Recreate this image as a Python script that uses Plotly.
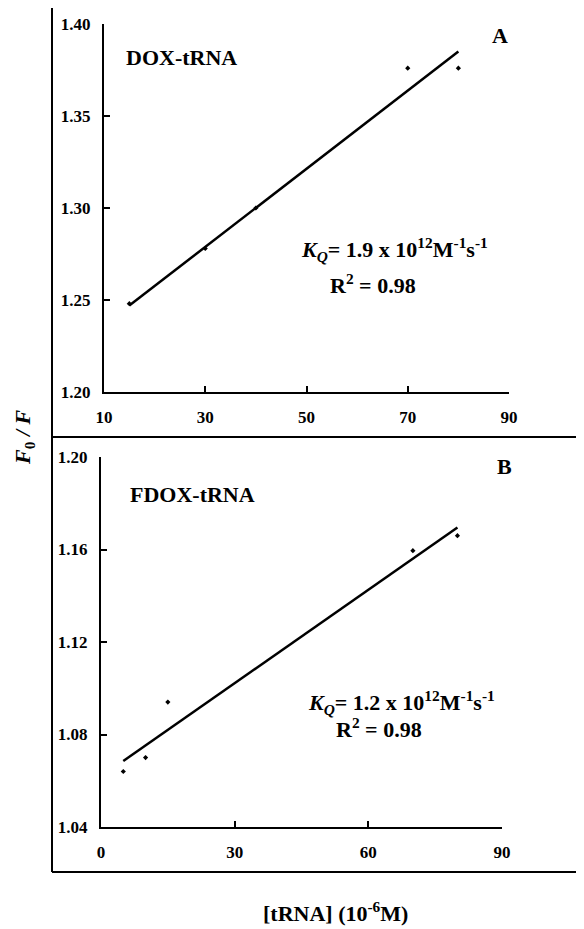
import plotly.graph_objects as go

# Panel A: DOX-tRNA
conc_A = [15, 30, 40, 70, 80]
f0f_A = [1.248, 1.278, 1.300, 1.376, 1.376]
fit_x_A = [15, 80]
fit_y_A = [1.247, 1.385]

# Panel B: FDOX-tRNA
conc_B = [5, 10, 15, 70, 80]
f0f_B = [1.064, 1.070, 1.094, 1.1595, 1.166]
fit_x_B = [5, 80]
fit_y_B = [1.0685, 1.1695]

W, H = 584, 929
OFF = 8  # page body margin offset
FONT = "Liberation Serif, Times New Roman, serif"


def px(x):
    return (x - OFF) / W


def py(y):
    return 1 - (y - OFF) / H


fig = go.Figure()

marker = dict(symbol="diamond", size=4, color="black")
line = dict(color="black", width=2.5)

fig.add_trace(go.Scatter(x=conc_A, y=f0f_A, mode="markers", marker=marker,
                         xaxis="x", yaxis="y", showlegend=False))
fig.add_trace(go.Scatter(x=fit_x_A, y=fit_y_A, mode="lines", line=line,
                         xaxis="x", yaxis="y", showlegend=False))
fig.add_trace(go.Scatter(x=conc_B, y=f0f_B, mode="markers", marker=marker,
                         xaxis="x2", yaxis="y2", showlegend=False))
fig.add_trace(go.Scatter(x=fit_x_B, y=fit_y_B, mode="lines", line=line,
                         xaxis="x2", yaxis="y2", showlegend=False))

tickfont = dict(family=FONT, size=17, color="black", weight="bold")
common = dict(showgrid=False, zeroline=False, showline=True, linecolor="black",
              linewidth=2, ticks="inside", ticklen=6, tickwidth=2,
              tickcolor="black", tickfont=tickfont, mirror=False, automargin=False)

fig.update_layout(
    width=W, height=H,
    margin=dict(l=0, r=0, t=0, b=0, pad=0, autoexpand=False),
    paper_bgcolor="white", plot_bgcolor="white",
    xaxis=dict(domain=[px(104), px(509)], range=[10, 90], tick0=10, dtick=20,
               anchor="y", ticklabelstandoff=9, **common),
    yaxis=dict(domain=[py(392), py(24)], range=[1.20, 1.40], tick0=1.20, dtick=0.05,
               tickformat=".2f", anchor="x", ticklabelstandoff=8, **common),
    xaxis2=dict(domain=[px(101), px(502)], range=[0, 90], tick0=0, dtick=30,
                anchor="y2", ticklabelstandoff=9, **common),
    yaxis2=dict(domain=[py(827), py(457)], range=[1.04, 1.20], tick0=1.04, dtick=0.04,
                tickformat=".2f", anchor="x2", ticklabelstandoff=8, **common),
)

# Frame lines
frame = dict(color="black", width=2)
shapes = [
    dict(type="line", xref="paper", yref="paper", x0=px(52), x1=px(52), y0=py(7), y1=py(872), line=frame),
    dict(type="line", xref="paper", yref="paper", x0=px(52), x1=1.0, y0=py(7), y1=py(7), line=frame),
    dict(type="line", xref="paper", yref="paper", x0=px(52), x1=1.0, y0=py(437), y1=py(437), line=frame),
    dict(type="line", xref="paper", yref="paper", x0=px(52), x1=1.0, y0=py(872), y1=py(872), line=frame),
]
fig.update_layout(shapes=shapes)


def ann(text, x, y, size, xanchor="left", yanchor="middle", angle=0):
    fig.add_annotation(text=text, x=px(x), y=py(y), xref="paper", yref="paper",
                       xanchor=xanchor, yanchor=yanchor, showarrow=False, textangle=angle,
                       font=dict(family=FONT, size=size, color="black", weight="bold"))


ann("DOX-tRNA", 124, 58, 22)
ann("A", 510, 35, 22, xanchor="right")
ann("<i>K<sub>Q</sub></i>= 1.9 x 10<sup>12</sup>M<sup>-1</sup>s<sup>-1</sup>", 299, 249, 22)
ann("R<sup>2</sup> = 0.98", 373, 284, 22, xanchor="center")

ann("FDOX-tRNA", 128, 494, 22)
ann("B", 514, 466, 22, xanchor="right")
ann("<i>K<sub>Q</sub></i>= 1.2 x 10<sup>12</sup>M<sup>-1</sup>s<sup>-1</sup>", 306, 702, 22)
ann("R<sup>2</sup> = 0.98", 379, 728, 22, xanchor="center")

ann("<i>F</i><sub>0</sub><i> / F</i>", 24, 437, 22, xanchor="center", angle=-90)
ann("[tRNA] (10<sup>-6</sup>M)", 335, 912, 22, xanchor="center")

fig.write_html("out.html")
